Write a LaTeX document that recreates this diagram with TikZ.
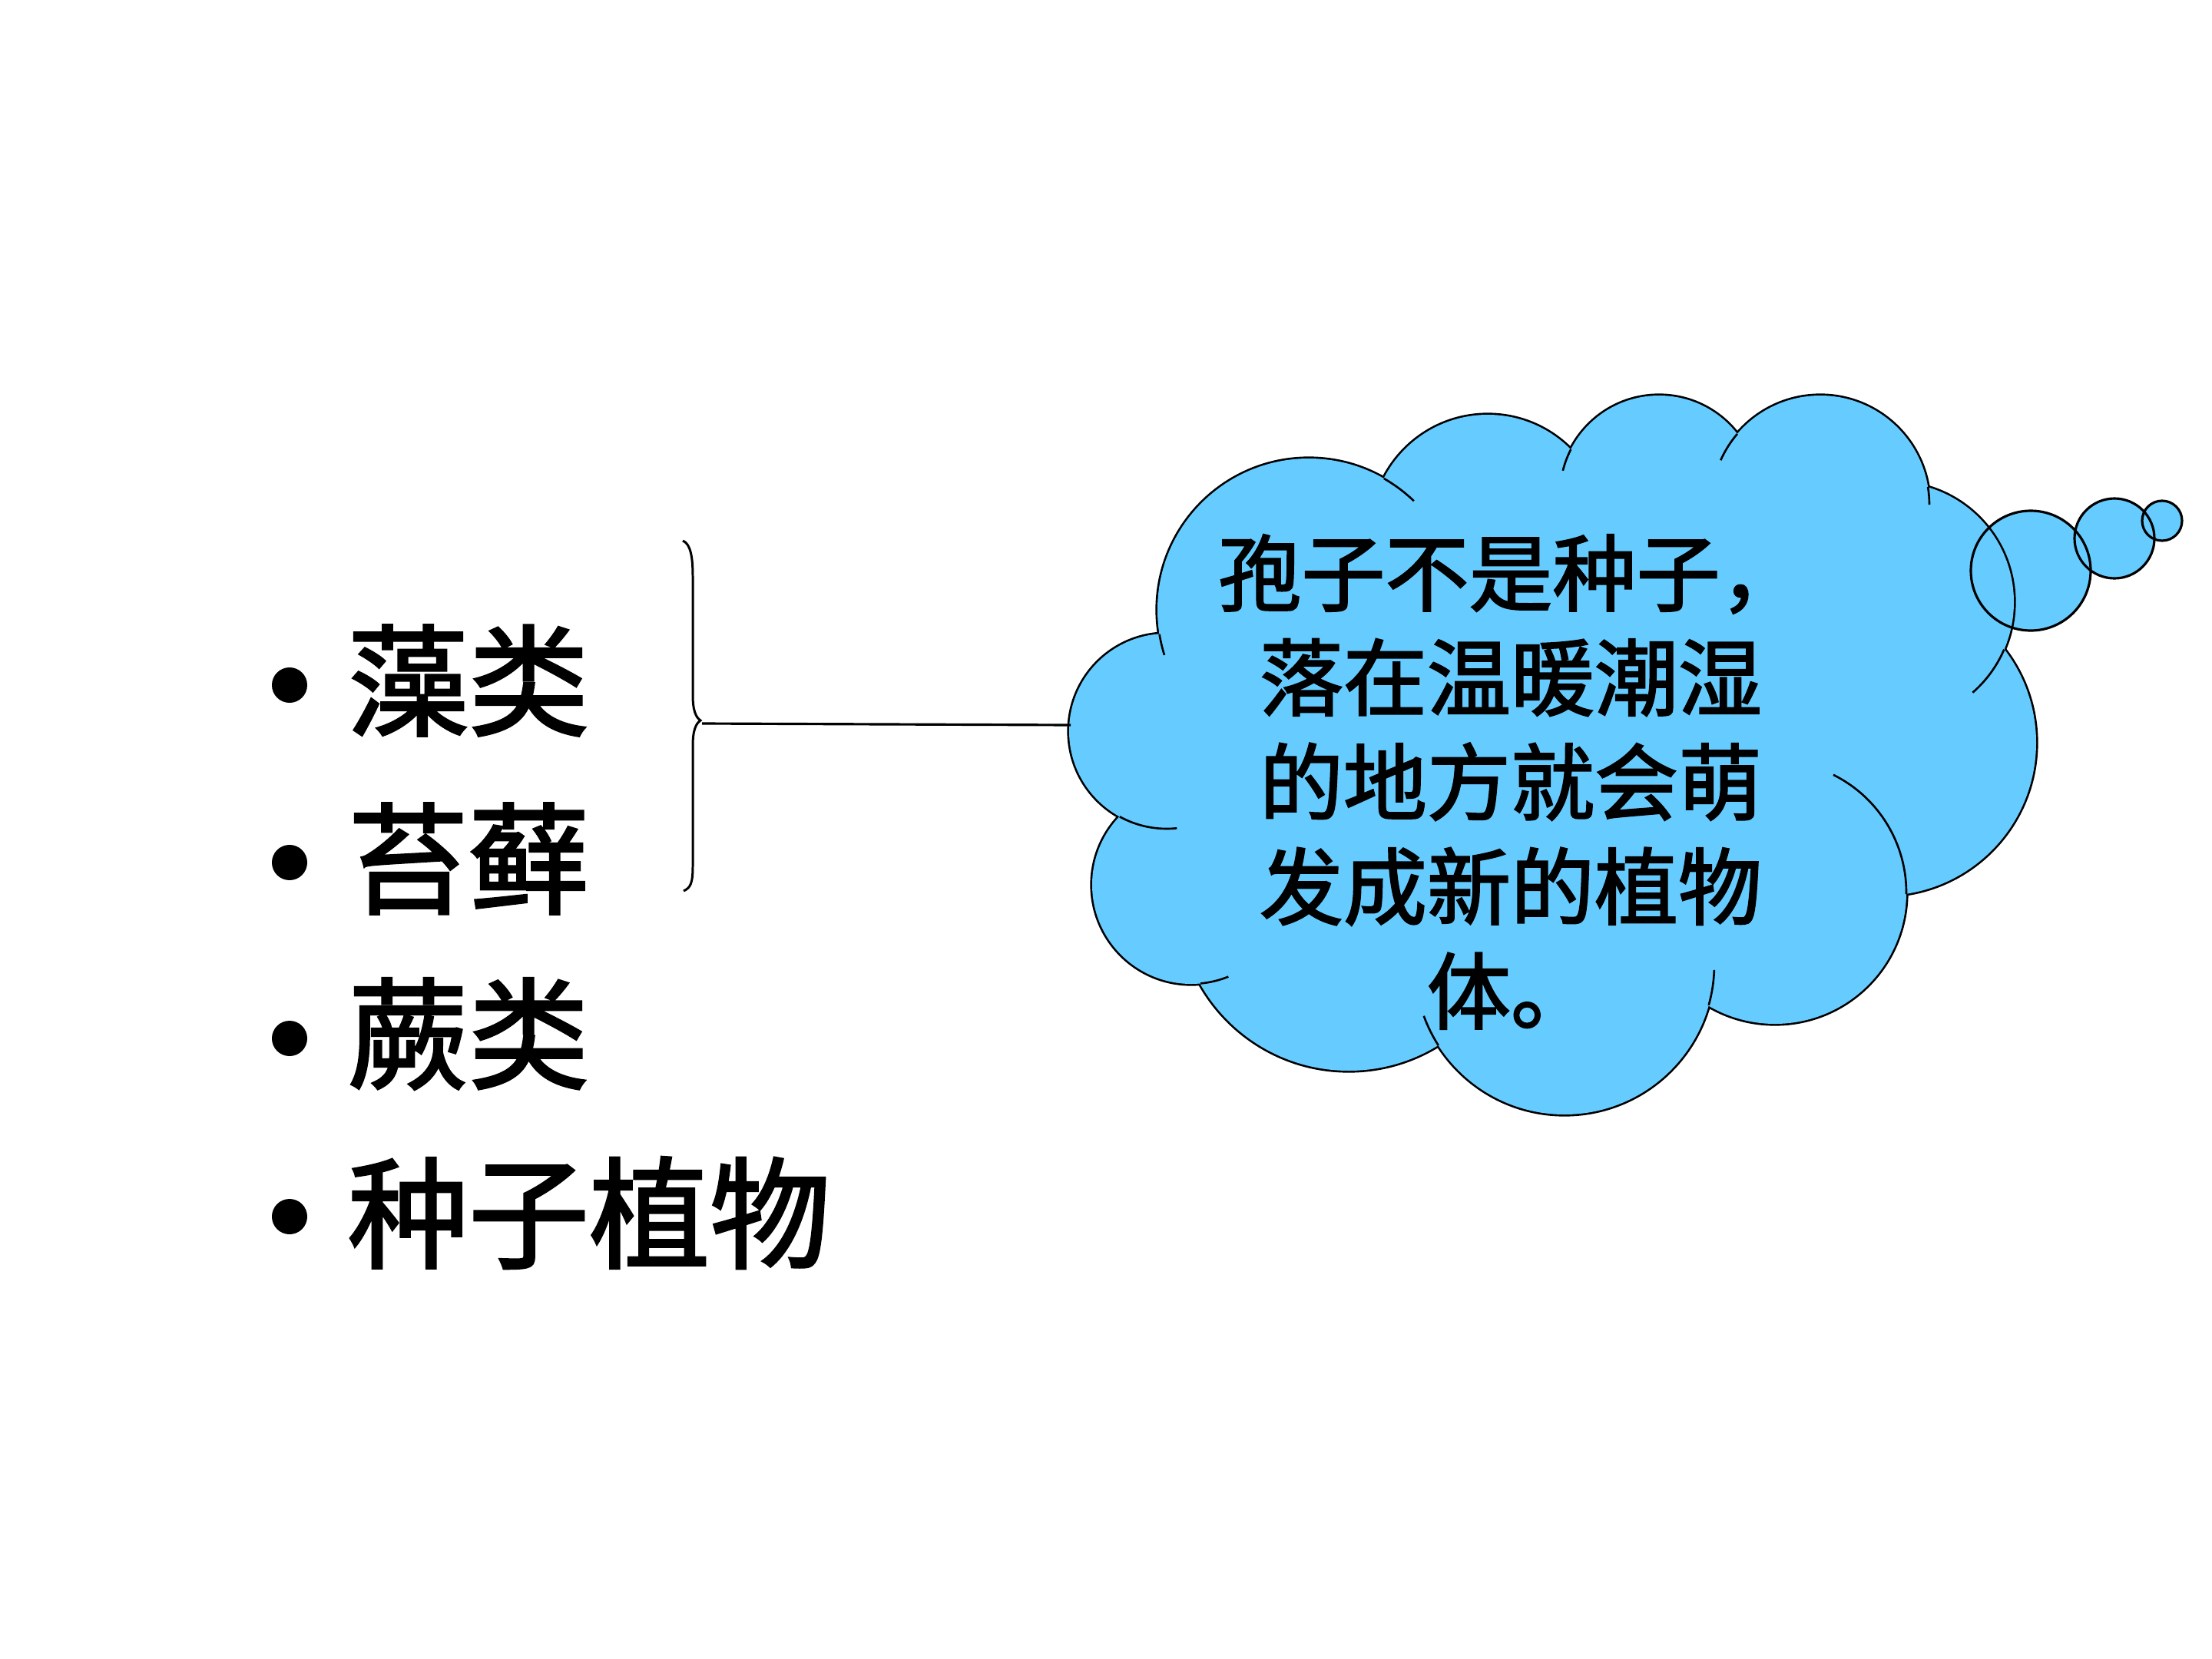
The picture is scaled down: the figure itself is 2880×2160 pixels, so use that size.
\documentclass[tikz,border=0pt]{standalone}
\usepackage{fontspec}
\newfontfamily\cjk{Noto Sans CJK SC}[FakeBold=2]
\definecolor{cloudblue}{RGB}{102,204,255}
\tikzset{
  itemtext/.style={anchor=west, inner sep=0pt, font=\cjk\fontsize{44.7pt}{54pt}\selectfont},
  bulletdot/.style={circle, fill=black, inner sep=0pt, minimum size=0.46cm},
  cloudtext/.style={align=center, inner sep=0pt, font=\cjk\fontsize{31pt}{38.7pt}\selectfont},
  hookline/.style={line width=0.75pt},
  bubble/.style={line width=0.9pt},
  linkline/.style={line width=0.9pt}
}
\begin{document}
\begin{tikzpicture}[x=0.01cm,y=-0.01cm]
\fill[white] (0,0) rectangle (2880,2160);
\useasboundingbox (0,0) rectangle (2880,2160);
\def\lobes{1519/952/127, 1551/1152/129, 1756/1172/222, 2037/1256/195, 2311/1162/171, 2452/967/199, 2466/784/156, 2370/657/142, 2160/644/129, 1937/692/152, 1704/794/197}
% thought bubbles fill
\fill[cloudblue] (2644,743) circle[radius=78];
\fill[cloudblue] (2753,701) circle[radius=52];
\fill[cloudblue] (2815,678) circle[radius=26];
% cloud outline (outer half of wide strokes)
\foreach \h/\k/\r in \lobes { \draw[line width=1.5pt] (\h,\k) circle[radius=\r]; }
% cloud fill
\fill[cloudblue] (1509,826) -- (1802,623) -- (2045,585) -- (2262,565) -- (2510,634) -- (2610,846) -- (2482,1164) -- (2225,1309) -- (1873,1361) -- (1563,1281) -- (1458,1063) -- cycle;
\foreach \h/\k/\r in \lobes { \fill[cloudblue] (\h,\k) circle[radius=\r]; }
% inner hooks
\foreach \h/\k/\r/\a/\b in {1704/794/197/170.7/162.6, 1519/952/127/118.8/84, 1551/1152/129/84.7/68, 2037/1256/195/147.4/160, 2037/1256/195/15.7/2, 2311/1162/171/-63.6/0.7, 2466/784/156/23.3/49, 2370/657/142/-9.3/0, 2370/657/142/220.4/204, 2160/644/129/207.2/194, 1704/794/197/-60.2/-46}
  { \draw[hookline] (\h,\k) ++(\a:\r) arc[start angle=\a, end angle=\b, radius=\r]; }
% bubble outlines
\draw[bubble] (2644,743) circle[radius=78];
\draw[bubble] (2753,701) circle[radius=52];
\draw[bubble] (2815,678) circle[radius=26];
% cloud text
\node[cloudtext] (ct) at (1967,1018) {孢子不是种子，\\落在温暖潮湿\\的地方就会萌\\发成新的植物\\体。};
% list
\node[bulletdot] (b1) at (377,892) {};
\node[bulletdot] (b2) at (377,1123) {};
\node[bulletdot] (b3) at (377,1352) {};
\node[bulletdot] (b4) at (377,1584) {};
\node[itemtext] (i1) at (452,886) {藻类};
\node[itemtext] (i2) at (452,1118) {苔藓};
\node[itemtext] (i3) at (452,1346) {蕨类};
\node[itemtext] (i4) at (452,1579) {种子植物};
% brace
\draw[line width=0.85pt] (889,704) .. controls (899,708) and (902,725) .. (902,750) -- (902,905) .. controls (902,925) and (906,934) .. (912,938) .. controls (906,942) and (902,951) .. (902,971) -- (902,1128) .. controls (902,1150) and (899,1156) .. (890,1160);
\coordinate (bt) at (914,942);
\coordinate (cl) at (1394,944);
\draw[linkline] (bt) -- (cl);
\end{tikzpicture}
\end{document}
